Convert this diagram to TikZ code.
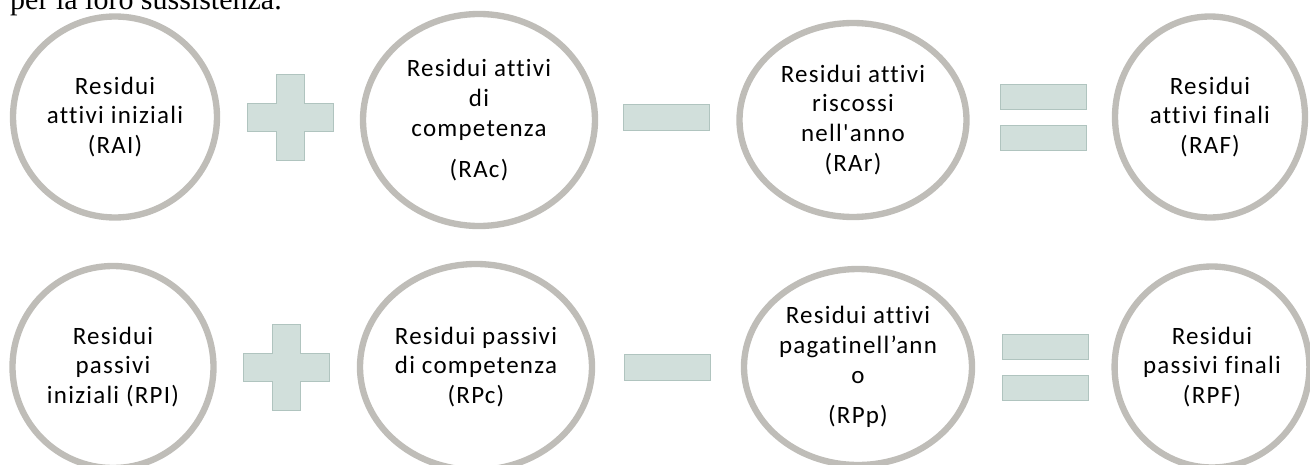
\documentclass[tikz,border=0pt]{standalone}
\usepackage{fontspec}
\usepackage{tikz}
\usetikzlibrary{shapes,positioning}
\newfontfamily\resfont{Carlito}[LetterSpace=5, Ligatures=NoCommon]
\newfontfamily\bodyfont{Liberation Serif}
\definecolor{ringgray}{RGB}{191,189,184}
\definecolor{opfill}{RGB}{209,223,219}
\definecolor{opedge}{RGB}{176,196,191}

\begin{document}
\begin{tikzpicture}[
			x=0.3mm, y=-0.3mm,
			res/.style={ellipse, draw=ringgray, line width=1.9mm, fill=white, align=center, inner sep=0pt, font=\resfont\fontsize{21.3}{25.5}\selectfont},
			opbar/.style={rectangle, fill=opfill, draw=opedge, line width=0.5pt, inner sep=0pt, minimum width=25.8mm, minimum height=7.5mm},
			opsign/.style={fill=opfill, draw=opedge, line width=0.5pt}
		]
		\clip (0,0) rectangle (1310,465);

		\node[anchor=base west, inner sep=0pt, font=\bodyfont\fontsize{25.6}{30}\selectfont] (intro) at (10,9) {per la loro sussistenza.};

		% residui attivi
		\node[res, minimum width=61.2mm, minimum height=60.3mm] (rai) at (115,117) {Residui\\attivi iniziali\\(RAI)};
		\node[res, minimum width=69.6mm, minimum height=63.6mm] (rac) at (479,120) {Residui attivi\\di\\competenza\\[9pt](RAc)};
		\node[res, minimum width=68.1mm, minimum height=58.2mm] (rar) at (853,120) {Residui attivi\\riscossi\\nell'anno\\(RAr)};
		\node[res, minimum width=57mm, minimum height=60.3mm] (raf) at (1210,117) {Residui\\attivi finali\\(RAF)};

		% residui passivi
		\node[res, minimum width=60.3mm, minimum height=60.6mm] (rpi) at (113,367) {Residui\\passivi\\iniziali (RPI)};
		\node[res, minimum width=69.6mm, minimum height=61.8mm] (rpc) at (476,367) {Residui passivi\\di competenza\\(RPc)};
		\node[res, minimum width=68.4mm, minimum height=58.8mm] (rpp) at (858,367) {Residui attivi\\pagatinell’ann\\o\\[9pt](RPp)};
		\node[res, minimum width=57mm, minimum height=60.3mm] (rpf) at (1212,367) {Residui\\passivi finali\\(RPF)};

		\coordinate (piu1) at (290,117);
		\coordinate (piu2) at (286,367);
		\draw[opsign, shift={(piu1)}] (-43,-14) -- (-14,-14) -- (-14,-43) -- (14,-43) -- (14,-14) -- (43,-14) -- (43,14) -- (14,14) -- (14,43) -- (-14,43) -- (-14,14) -- (-43,14) -- cycle;
		\draw[opsign, shift={(piu2)}] (-43,-14) -- (-14,-14) -- (-14,-43) -- (14,-43) -- (14,-14) -- (43,-14) -- (43,14) -- (14,14) -- (14,43) -- (-14,43) -- (-14,14) -- (-43,14) -- cycle;

		\node[opbar, minimum height=7.8mm] (meno1) at (666,117) {};
		\node[opbar, minimum height=7.8mm] (meno2) at (667,367) {};

		\node[opbar] (uguale1a) at (1043,97) {};
		\node[opbar] (uguale1b) at (1043,138) {};
		\node[opbar] (uguale2a) at (1045,347) {};
		\node[opbar] (uguale2b) at (1045,388) {};

	\end{tikzpicture}
\end{document}
